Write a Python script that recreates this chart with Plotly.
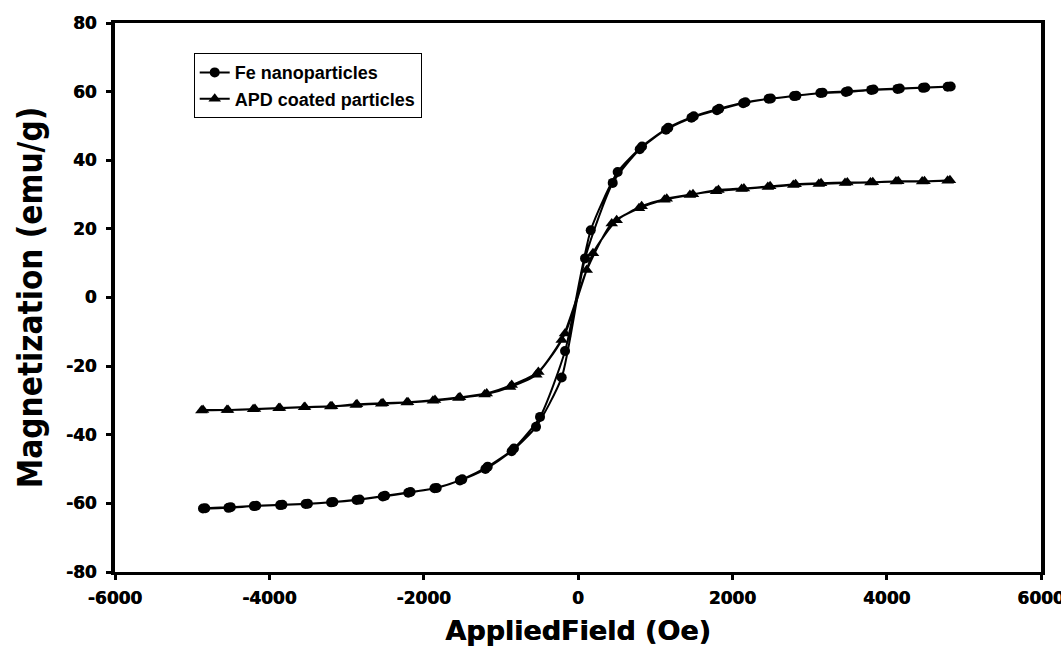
import plotly.graph_objects as go

# Fe nanoparticles: descending branch then ascending branch
fe_desc_x = [4830, 4500, 4170, 3830, 3500, 3170, 2830, 2500, 2170, 1830, 1500, 1170, 830, 514, 165,
             -168, -492, -830, -1170, -1500, -1830, -2170, -2500, -2830, -3170, -3500, -3830, -4170, -4500, -4830]
fe_desc_y = [61.5, 61.2, 60.9, 60.6, 60.1, 59.7, 58.8, 58.0, 56.9, 55.0, 52.8, 49.5, 44.0, 36.6, 19.6,
             -15.6, -34.8, -44.0, -49.3, -53.0, -55.5, -56.7, -57.8, -58.9, -59.6, -60.1, -60.4, -60.7, -61.1, -61.4]
fe_asc_x = [-4860, -4530, -4200, -3860, -3530, -3200, -2870, -2530, -2200, -1860, -1530, -1200, -860, -544, -211,
            91, 450, 800, 1140, 1470, 1800, 2140, 2470, 2800, 3140, 3470, 3800, 4140, 4470, 4790]
fe_asc_y = [-61.5, -61.3, -60.8, -60.5, -60.2, -59.7, -59.0, -58.0, -56.9, -55.6, -53.3, -50.0, -44.8, -37.7, -23.3,
            11.4, 33.4, 43.2, 48.9, 52.4, 54.6, 56.6, 57.9, 58.7, 59.6, 59.9, 60.5, 60.8, 61.1, 61.4]

# APD coated particles
apd_desc_x = [4820, 4490, 4150, 3820, 3490, 3150, 2820, 2490, 2150, 1820, 1490, 1150, 825, 501, 194,
              -168, -514, -859, -1183, -1529, -1853, -2203, -2527, -2864, -3188, -3538, -3862, -4186, -4535, -4859]
apd_desc_y = [34.2, 33.9, 33.9, 33.6, 33.5, 33.3, 33.0, 32.4, 31.8, 31.3, 30.1, 28.8, 26.6, 22.5, 12.9,
              -10.5, -21.7, -25.5, -28.0, -29.1, -29.9, -30.5, -30.8, -31.1, -31.7, -31.9, -32.2, -32.5, -32.8, -32.8]
apd_asc_x = [-4880, -4550, -4210, -3880, -3550, -3210, -2880, -2550, -2220, -1880, -1550, -1210, -880, -540, -211,
             113, 437, 790, 1120, 1450, 1790, 2120, 2460, 2790, 3120, 3460, 3790, 4120, 4460, 4790]
apd_asc_y = [-32.9, -32.8, -32.6, -32.3, -32.0, -31.8, -31.3, -31.0, -30.6, -30.1, -29.3, -28.3, -26.1, -22.5, -12.4,
             8.0, 21.6, 26.0, 28.5, 29.9, 31.0, 31.6, 32.2, 32.8, 33.1, 33.4, 33.5, 33.8, 33.8, 34.0]

x_ticks = [-6000, -4000, -2000, 0, 2000, 4000, 6000]
y_ticks = [-80, -60, -40, -20, 0, 20, 40, 60, 80]

fig = go.Figure()
fig.add_trace(go.Scatter(
    x=fe_desc_x + fe_asc_x, y=fe_desc_y + fe_asc_y, name="Fe nanoparticles",
    mode="lines+markers", line=dict(color="black", width=2, shape="spline", smoothing=0.6),
    marker=dict(symbol="circle", size=10, color="black")))
fig.add_trace(go.Scatter(
    x=apd_desc_x + apd_asc_x, y=apd_desc_y + apd_asc_y, name="APD coated particles",
    mode="lines+markers", line=dict(color="black", width=2, shape="spline", smoothing=0.6),
    marker=dict(symbol="triangle-up", size=11, color="black")))

tickfont = dict(family="DejaVu Sans", size=17, color="black", weight="bold",
                shadow="0.5px 0 0 black")
fig.update_layout(
    width=1061, height=650, autosize=False,
    margin=dict(l=115, r=20, t=23, b=78),
    paper_bgcolor="white", plot_bgcolor="white",
    showlegend=True,
    legend=dict(x=0.085, y=0.945, xanchor="left", yanchor="top",
                bordercolor="black", borderwidth=1, bgcolor="white",
                font=dict(family="Liberation Sans", size=18, color="black", weight="bold"),
                tracegroupgap=0, itemwidth=30),
    xaxis=dict(range=[-6000, 6000], tickvals=x_ticks, ticktext=[str(v) for v in x_ticks],
               automargin=False, ticklabeloverflow="allow",
               showgrid=False, zeroline=False, showline=True, linecolor="black", linewidth=3,
               mirror=True, ticks="outside", ticklen=5, tickwidth=3, tickcolor="black",
               tickfont=tickfont, ticklabelstandoff=4,
               title=dict(text="AppliedField (Oe)", standoff=14,
                          font=dict(family="DejaVu Sans", size=27, color="black", weight="bold",
                                    shadow="0.6px 0 0 black"))),
    yaxis=dict(range=[-80, 80], tickvals=y_ticks, ticktext=[str(v) for v in y_ticks],
               automargin=False, ticklabeloverflow="allow",
               showgrid=False, zeroline=False, showline=True, linecolor="black", linewidth=4,
               mirror=True, ticks="outside", ticklen=5, tickwidth=3, tickcolor="black",
               tickfont=tickfont, ticklabelstandoff=6,
               title=dict(text="Magnetization (emu/g)", standoff=14,
                          font=dict(family="DejaVu Sans Condensed", size=33, color="black", weight="bold"))),
)

fig.write_html("out.html")
